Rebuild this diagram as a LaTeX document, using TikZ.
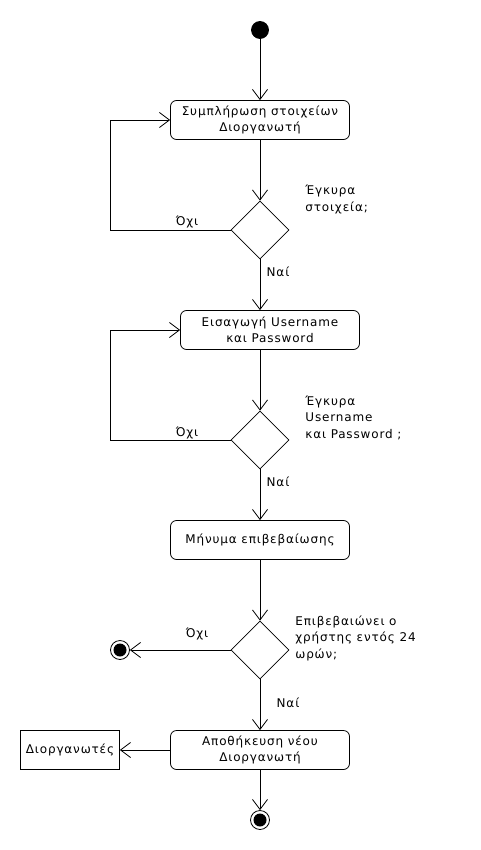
\documentclass[tikz,border=0pt]{standalone}
\usepackage{fontspec}
\setmainfont{DejaVu Sans}[LetterSpace=7]
\usetikzlibrary{arrows.meta,shapes.geometric}

\tikzset{
  action/.style={draw,rounded corners=6pt,minimum width=179pt,minimum height=39pt,align=center,inner sep=2pt},
  objbox/.style={draw,minimum width=99pt,minimum height=39pt,inner sep=2pt},
  decision/.style={draw,diamond,minimum width=58pt,minimum height=58pt,inner sep=0pt},
  startnode/.style={circle,fill=black,draw,minimum size=17pt,inner sep=0pt},
  endnode/.style={circle,draw,fill=white,minimum size=19pt,inner sep=0pt},
  flow/.style={-{Straight Barb[length=10pt,width=15pt]}},
  note/.style={align=left,anchor=north west,inner sep=0pt}
}

\begin{document}
\begin{tikzpicture}[x=1pt,y=-1pt,line width=0.8pt]
\fontsize{12}{16.5}\selectfont
\useasboundingbox[fill=white] (0,0) rectangle (480,850);

\node[startnode] (start) at (260,30) {};
\node[action] (fill) at (260,120) {Συμπλήρωση στοιχείων\\Διοργανωτή};
\node[decision] (check1) at (260,230) {};
\node[action] (login) at (270,330) {Εισαγωγή Username\\και Password};
\node[decision] (check2) at (260,440) {};
\node[action] (msg) at (260,540) {Μήνυμα επιβεβαίωσης};
\node[decision] (check3) at (260,650) {};
\node[endnode] (stop1) at (120,650) {};
\node[action] (save) at (260,750) {Αποθήκευση νέου\\Διοργανωτή};
\node[objbox] (store) at (70,750) {Διοργανωτές};
\node[endnode] (stop2) at (260,820) {};
\fill (stop1.center) circle (6.5pt);
\fill (stop2.center) circle (6.5pt);
\coordinate (loopx) at (110,0);

\draw[flow] (start) -- (fill);
\draw[flow] (fill) -- (check1);
\draw[flow] (check1.west) -- (check1.west -| loopx) |- (fill.west);
\draw[flow] (check1.south) -- (check1.south |- login.north);
\draw[flow] (login.south -| check2) -- (check2.north);
\draw[flow] (check2.west) -- (check2.west -| loopx) |- (login.west);
\draw[flow] (check2) -- (msg);
\draw[flow] (msg) -- (check3);
\draw[flow] (check3) -- (stop1);
\draw[flow] (check3) -- (save);
\draw[flow] (save) -- (store);
\draw[flow] (save) -- (stop2);

\node[note] (q1) at (305,185) {Έγκυρα\\στοιχεία;};
\node (no1) at (187,222) {Όχι};
\node (yes1) at (278,272) {Ναί};
\node[note] (q2) at (305,395) {Έγκυρα\\Username\\και Password ;};
\node (no2) at (187,433) {Όχι};
\node (yes2) at (278,482) {Ναί};
\node[note] (q3) at (295,615) {Επιβεβαιώνει ο\\χρήστης εντός 24\\ωρών;};
\node (no3) at (197,634) {Όχι};
\node (yes3) at (288,703) {Ναί};
\end{tikzpicture}
\end{document}
